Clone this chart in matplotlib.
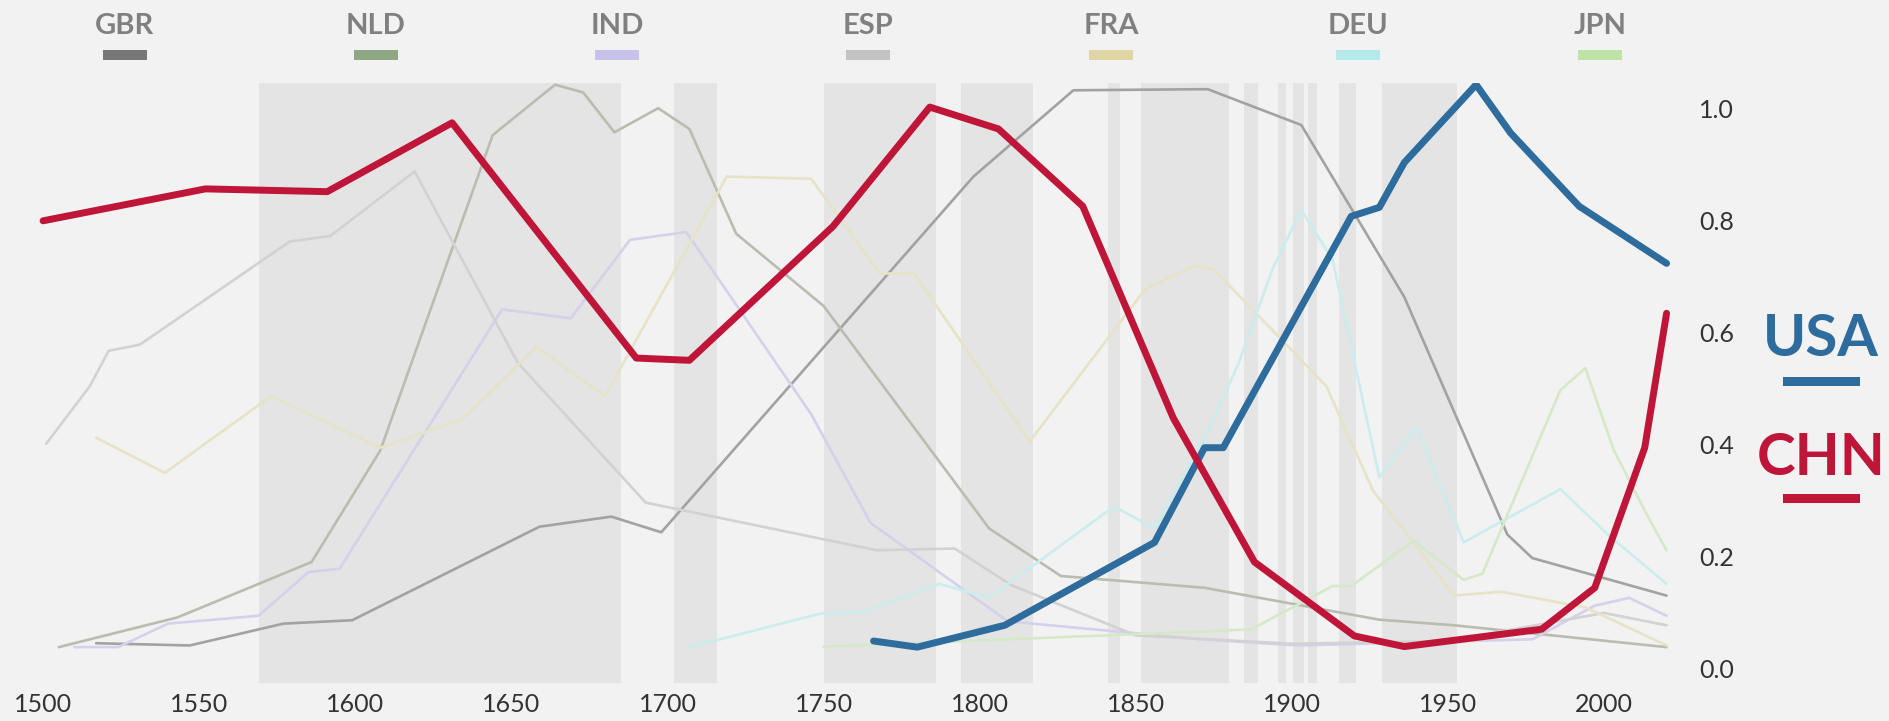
import matplotlib
matplotlib.use("Agg")
import matplotlib.pyplot as plt
from matplotlib.patches import Rectangle

W, H = 1890, 721
BG = '#f2f2f2'
BAND = '#e4e4e4'

# shaded periods (years)
bands = [(1569, 1685), (1702, 1716), (1750, 1757.5), (1757.5, 1766), (1766, 1786),
         (1794, 1817), (1841, 1845), (1851.5, 1880), (1884.5, 1889), (1895.5, 1898),
         (1900.3, 1904), (1905, 1908), (1915, 1920.6), (1929, 1953)]

# background countries
gbr_years = [1517, 1547, 1577, 1599, 1659, 1682, 1698, 1798, 1830, 1873, 1903, 1936, 1969, 1977, 2020]
gbr = [0.046, 0.042, 0.081, 0.087, 0.254, 0.272, 0.244, 0.879, 1.033, 1.035, 0.971, 0.664, 0.24, 0.198, 0.131]

nld_years = [1505, 1543, 1586, 1608, 1644, 1664, 1673, 1683, 1697, 1707, 1722, 1750, 1803, 1826, 1872, 1928, 1952, 2020]
nld = [0.039, 0.092, 0.191, 0.39, 0.953, 1.043, 1.029, 0.958, 1.001, 0.964, 0.777, 0.648, 0.251, 0.166, 0.145, 0.088, 0.078, 0.039]

ind_years = [1510, 1524, 1540, 1569, 1585, 1595, 1647, 1669, 1688, 1706, 1746, 1765, 1809, 1871, 1902, 1977, 1997, 2008, 2020]
ind = [0.039, 0.039, 0.081, 0.095, 0.173, 0.179, 0.642, 0.626, 0.766, 0.78, 0.455, 0.261, 0.085, 0.053, 0.042, 0.053, 0.113, 0.127, 0.095]

esp_years = [1501, 1515, 1521, 1531, 1579, 1592, 1619, 1652, 1693, 1767, 1792, 1810, 1850, 1900, 1950, 2000, 2020]
esp = [0.402, 0.505, 0.568, 0.579, 0.763, 0.773, 0.888, 0.547, 0.297, 0.212, 0.215, 0.15, 0.06, 0.045, 0.05, 0.1, 0.078]

fra_years = [1517, 1539, 1573, 1608, 1634, 1658, 1680, 1719, 1746, 1768, 1779, 1816, 1853, 1869, 1875, 1911, 1926, 1952, 1967, 1994, 2020]
fra = [0.413, 0.35, 0.487, 0.395, 0.445, 0.575, 0.487, 0.879, 0.875, 0.706, 0.706, 0.406, 0.678, 0.72, 0.713, 0.505, 0.318, 0.131, 0.138, 0.11, 0.042]

deu_years = [1707, 1749, 1763, 1787, 1803, 1843, 1856, 1874, 1883, 1894, 1903, 1913, 1928, 1940, 1955, 1986, 2002, 2020]
deu = [0.039, 0.099, 0.102, 0.152, 0.127, 0.29, 0.251, 0.434, 0.547, 0.717, 0.819, 0.731, 0.342, 0.431, 0.226, 0.321, 0.236, 0.152]

jpn_years = [1750, 1872, 1887, 1913, 1919, 1939, 1955, 1961, 1986, 1994, 2003, 2014, 2020]
jpn = [0.04, 0.067, 0.071, 0.148, 0.148, 0.229, 0.159, 0.17, 0.498, 0.537, 0.392, 0.272, 0.212]

# highlighted countries
usa_years = [1766, 1780, 1808, 1856, 1872, 1878, 1919, 1928, 1936, 1959, 1970, 1992, 2020]
usa = [0.05, 0.039, 0.078, 0.226, 0.395, 0.395, 0.808, 0.824, 0.904, 1.043, 0.957, 0.826, 0.724]

chn_years = [1500, 1552, 1591, 1631, 1690, 1707, 1753, 1784, 1806, 1833, 1862, 1888, 1920, 1936, 1980, 1997, 2013, 2020]
chn = [0.80, 0.857, 0.852, 0.975, 0.555, 0.551, 0.79, 1.003, 0.964, 0.826, 0.448, 0.191, 0.059, 0.040, 0.071, 0.145, 0.395, 0.635]

# name, x, y, swatch colour, line colour
background = [('GBR', gbr_years, gbr, '#777777', '#a2a2a2'),
              ('NLD', nld_years, nld, '#8ea883', '#b8bdb0'),
              ('IND', ind_years, ind, '#c6c2ea', '#d4d1ea'),
              ('ESP', esp_years, esp, '#c3c3c3', '#d2d2d2'),
              ('FRA', fra_years, fra, '#e0d5a5', '#e6e3c6'),
              ('DEU', deu_years, deu, '#b5e9ea', '#cbeded'),
              ('JPN', jpn_years, jpn, '#bfe2a7', '#d5e9c8')]
USA_C = '#2e6c9e'
CHN_C = '#be1538'

plt.rcParams['font.family'] = ['Lato', 'DejaVu Sans']

fig = plt.figure(figsize=(W / 100, H / 100), dpi=100, facecolor=BG)
ax = fig.add_axes([0, 38 / H, 1680 / W, 600 / H])
ax.set_facecolor(BG)

for a, b in bands:
    ax.axvspan(a, b, color=BAND, lw=0, zorder=0)

for name, xs, ys, sw, col in background:
    ax.plot(xs, ys, color=col, lw=1.9, solid_joinstyle='round',
            solid_capstyle='round', zorder=2)

ax.plot(usa_years, usa, color=USA_C, lw=5, solid_joinstyle='round',
        solid_capstyle='round', zorder=4)
ax.plot(chn_years, chn, color=CHN_C, lw=5, solid_joinstyle='round',
        solid_capstyle='round', zorder=5)

ax.set_xlim(1486.2, 2024.3)
ax.set_ylim(-0.025, 1.046)
ax.set_xticks(range(1500, 2001, 50))
ax.set_yticks([0, 0.2, 0.4, 0.6, 0.8, 1.0])
ax.set_yticklabels(['0.0', '0.2', '0.4', '0.6', '0.8', '1.0'])
ax.yaxis.tick_right()
ax.tick_params(axis='both', length=0, labelsize=18, colors='#333333')
ax.tick_params(axis='y', pad=14)
ax.tick_params(axis='x', pad=7)
for s in ax.spines.values():
    s.set_visible(False)

# legend across the top
centers = [125, 376, 617, 868, 1111, 1358, 1600]
for (name, xs, ys, sw, col), cx in zip(background, centers):
    fig.text(cx / W, 1 - 26 / H, name, ha='center', va='center', fontsize=21,
             color='#808080', fontweight='bold')
    fig.patches.append(Rectangle(((cx - 22) / W, 1 - 60 / H), 44 / W, 10 / H,
                                 transform=fig.transFigure, color=sw, lw=0))

# highlighted labels
for name, col, yc, bar_y in [('USA', USA_C, 340, 377), ('CHN', CHN_C, 458, 494)]:
    fig.text(1821 / W, 1 - yc / H, name, ha='center', va='center', fontsize=42,
             color=col, fontweight='bold')
    fig.patches.append(Rectangle((1783 / W, 1 - (bar_y + 9) / H), 77 / W, 9 / H,
                                 transform=fig.transFigure, color=col, lw=0))

fig.savefig('out.png', dpi=100, facecolor=BG)
